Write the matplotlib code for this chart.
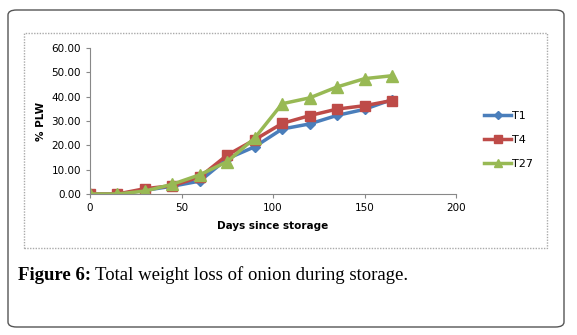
import matplotlib
matplotlib.use("Agg")
import matplotlib.pyplot as plt
from matplotlib.patches import FancyBboxPatch, Rectangle

days = [0, 15, 30, 45, 60, 75, 90, 105, 120, 135, 150, 165]
t1 = [0.0, 0.0, 1.5, 3.2, 5.3, 14.5, 19.4, 26.7, 28.8, 32.3, 34.8, 38.8]
t4 = [0.0, 0.0, 2.2, 3.4, 7.0, 16.0, 22.3, 29.0, 32.2, 34.9, 36.3, 38.4]
t27 = [0.0, 0.0, 1.2, 4.0, 7.9, 13.3, 23.0, 37.1, 39.5, 44.0, 47.4, 48.6]
series_names = ["T1", "T4", "T27"]
yticks = [0, 10, 20, 30, 40, 50, 60]
xticks = [0, 50, 100, 150, 200]

fig = plt.figure(figsize=(5.77, 3.35), dpi=100)

# outer rounded frame and inner chart area frame
W, H = 577.0, 335.0
outer = FancyBboxPatch((8 / W, 8 / H), 556 / W, 317 / H,
                       boxstyle="round,pad=0,rounding_size=0.015",
                       transform=fig.transFigure, fill=False,
                       edgecolor="#555555", linewidth=1.0)
fig.patches.append(outer)
inner = Rectangle((24 / W, 1 - 248 / H), 523 / W, 215 / H,
                  transform=fig.transFigure, fill=False,
                  edgecolor="#aaaaaa", linewidth=1.0, linestyle=(0, (1, 1)))
fig.patches.append(inner)

ax = fig.add_axes([90 / W, 1 - 194 / H, 366 / W, 146 / H])
ax.plot(days, t1, color="#4A7EBB", marker="D", markersize=5, linewidth=2.5, label=series_names[0])
ax.plot(days, t4, color="#BE4B48", marker="s", markersize=7, linewidth=2.5, label=series_names[1])
ax.plot(days, t27, color="#98B954", marker="^", markersize=8, linewidth=2.5, label=series_names[2])

ax.set_xlim(0, 200)
ax.set_ylim(0, 60)
ax.set_xticks(xticks)
ax.set_yticks(yticks)
ax.set_yticklabels(["%.2f" % v for v in yticks])
ax.tick_params(labelsize=7.5, color="#888888", length=3, direction="out")
for s in ["top", "right"]:
    ax.spines[s].set_visible(False)
for s in ["left", "bottom"]:
    ax.spines[s].set_color("#888888")
ax.patch.set_alpha(0)

ax.set_xlabel("Days since storage", fontsize=7.5, fontweight="bold", labelpad=6)
ax.set_ylabel("% PLW", fontsize=7.5, fontweight="bold", labelpad=4)

ax.legend(loc="center left", bbox_to_anchor=(1.05, 0.37), frameon=False,
          fontsize=8, handlelength=2.4, handletextpad=0.05, labelspacing=1.25,
          markerscale=0.8)

cap1 = fig.text(18 / W, 1 - 275 / H, "Figure 6:", fontsize=13.5, fontweight="bold",
                family="Liberation Serif", va="center")
fig.canvas.draw()
bb = cap1.get_window_extent()
fig.text((bb.x1 + 4) / W, 1 - 275 / H, "Total weight loss of onion during storage.",
         fontsize=13.5, family="Liberation Serif", va="center")

fig.savefig("out.png", dpi=100)
